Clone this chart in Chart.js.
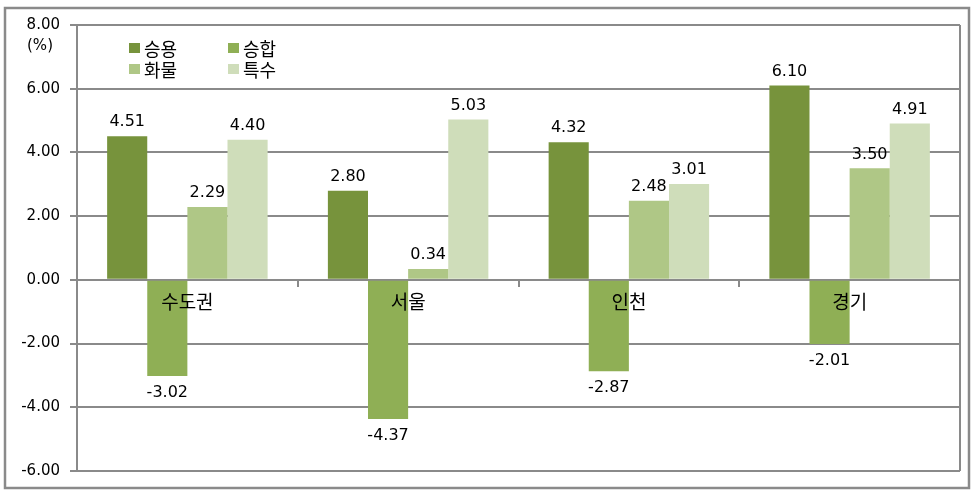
<!DOCTYPE html>
<html lang="ko">
<head>
    <meta charset="UTF-8">
    <title>지역별 차종 증감률</title>
    <script src="https://cdn.jsdelivr.net/npm/chart.js"></script>
    <style>
        html, body { margin: 0; padding: 0; background: #fff; }
        #wrap { width: 975px; height: 493px; }
    </style>
</head>
<body>
    <div id="wrap"><canvas id="chart" width="975" height="493"></canvas></div>

    <script>
        // 지역 (categories)
        const regions = ["수도권", "서울", "인천", "경기"];

        // 차종별 증감률 (%)
        const passenger = [4.51, 2.80, 4.32, 6.10];   // 승용
        const van = [-3.02, -4.37, -2.87, -2.01];     // 승합
        const cargo = [2.29, 0.34, 2.48, 3.50];       // 화물
        const special = [4.40, 5.03, 3.01, 4.91];     // 특수

        const seriesNames = ["승용", "승합", "화물", "특수"];
        const seriesColors = ["#77933C", "#8FAF55", "#AFC786", "#CFDDBA"];

        const yTicks = [-6, -4, -2, 0, 2, 4, 6, 8];

        const gridGray = "#8a8a8a";
        const fontFamily = "'DejaVu Sans', 'Noto Sans CJK KR', sans-serif";
        const krFont = "'Noto Sans CJK KR', 'DejaVu Sans', sans-serif";

        // 막대 위/아래 값 표시
        const valueLabels = {
            id: "valueLabels",
            afterDatasetsDraw(chart) {
                const ctx = chart.ctx;
                ctx.save();
                ctx.font = "16px " + fontFamily;
                ctx.fillStyle = "#000";
                ctx.textAlign = "center";
                ctx.textBaseline = "middle";
                chart.data.datasets.forEach((ds, i) => {
                    const meta = chart.getDatasetMeta(i);
                    meta.data.forEach((bar, j) => {
                        const v = ds.data[j];
                        const y = v >= 0 ? bar.y - 14 : bar.y + 17;
                        ctx.fillText(v.toFixed(2), bar.x, y);
                    });
                });
                ctx.restore();
            }
        };

        // 범례, (%) 표시, 테두리
        const decorations = {
            id: "decorations",
            afterDraw(chart) {
                const ctx = chart.ctx;
                const area = chart.chartArea;
                ctx.save();

                // plot box right edge
                ctx.strokeStyle = gridGray;
                ctx.lineWidth = 2;
                ctx.beginPath();
                ctx.moveTo(area.right, area.top);
                ctx.lineTo(area.right, area.bottom);
                ctx.stroke();

                // outer frame
                ctx.lineWidth = 2.5;
                ctx.strokeRect(5, 8, 964, 480);

                // unit
                ctx.fillStyle = "#000";
                ctx.font = "15px " + fontFamily;
                ctx.textAlign = "center";
                ctx.textBaseline = "middle";
                ctx.fillText("(%)", 40, 46);

                // legend 2x2
                const cols = [area.left + 52, area.left + 151];
                const rows = [area.top + 23, area.top + 44];
                ctx.font = "18px " + krFont;
                ctx.textAlign = "left";
                seriesNames.forEach((name, i) => {
                    const x = cols[i % 2];
                    const y = rows[Math.floor(i / 2)];
                    ctx.fillStyle = seriesColors[i];
                    ctx.fillRect(x, y - 5, 11, 10);
                    ctx.fillStyle = "#000";
                    ctx.fillText(name, x + 15, y + 1);
                });
                ctx.restore();
            }
        };

        const ctx = document.getElementById("chart").getContext("2d");
        new Chart(ctx, {
            type: "bar",
            data: {
                labels: regions,
                datasets: [passenger, van, cargo, special].map((d, i) => ({
                    label: seriesNames[i],
                    data: d,
                    backgroundColor: seriesColors[i],
                    borderWidth: 0,
                    categoryPercentage: 0.727,
                    barPercentage: 1.0
                }))
            },
            options: {
                responsive: false,
                animation: false,
                layout: { padding: { left: 0, top: 25, right: 15, bottom: 22 } },
                plugins: {
                    legend: { display: false },
                    tooltip: { enabled: false }
                },
                scales: {
                    x: {
                        position: { y: 0 },
                        offset: true,
                        grid: {
                            drawOnChartArea: false,
                            drawTicks: true,
                            tickLength: 6,
                            color: gridGray,
                            lineWidth: 2
                        },
                        border: { display: true, color: gridGray, width: 2 },
                        ticks: {
                            z: 1,
                            color: "#000",
                            padding: 5,
                            maxRotation: 0,
                            font: { family: krFont, size: 19 }
                        }
                    },
                    y: {
                        min: -6,
                        max: 8,
                        afterBuildTicks: (scale) => {
                            scale.ticks = yTicks.map(v => ({ value: v }));
                        },
                        afterFit: (scale) => { scale.width = 77; },
                        grid: {
                            color: gridGray,
                            lineWidth: 2,
                            tickLength: 7
                        },
                        border: { display: true, color: gridGray, width: 2 },
                        ticks: {
                            color: "#000",
                            padding: 10,
                            font: { family: fontFamily, size: 15 },
                            callback: (v) => Number(v).toFixed(2)
                        }
                    }
                }
            },
            plugins: [valueLabels, decorations]
        });
    </script>
</body>
</html>
